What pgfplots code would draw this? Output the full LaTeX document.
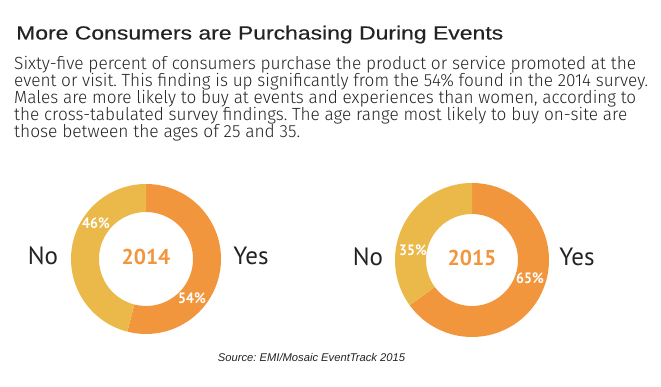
\documentclass[border=0pt]{standalone}
\usepackage{pgfplots}
\pgfplotsset{compat=1.18}
\usepackage{pgfplotstable}
\usepackage{graphicx}
\usepackage{fontspec}
\setmainfont{Liberation Sans}
\newfontfamily\titlefont[FakeBold=0.4]{Liberation Sans}
\newfontfamily\din[FakeStretch=0.93]{PT Sans}
\newfontfamily\dinw{PT Sans}
\newfontfamily\dinl{Fira Sans Light}
\usetikzlibrary{calc}
\definecolor{yesc}{RGB}{242,150,62}
\definecolor{noc}{RGB}{234,185,74}
\definecolor{txt}{RGB}{35,35,35}
\frenchspacing

\pgfplotstableread{
year yes no
2014 54 46
2015 65 35
}\donutdata

\newcommand\donut[7]{%
\fill[#7] ($(axis cs:#1,#2)+(#5:#3pt)$) arc[start angle=#5,end angle=#6,radius=#3pt]
 -- ($(axis cs:#1,#2)+(#6:#4pt)$) arc[start angle=#6,end angle=#5,radius=#4pt] -- cycle;}
\newcommand\fitw[2]{\resizebox{#1pt}{\height}{#2}}

\begin{document}
\begin{tikzpicture}
\pgfplotstablegetelem{0}{yes}\of\donutdata \let\yesA\pgfplotsretval
\pgfplotstablegetelem{1}{yes}\of\donutdata \let\yesB\pgfplotsretval
\pgfmathsetmacro\eA{90-3.6*\yesA}
\pgfmathsetmacro\eB{90-3.6*\yesB}
\begin{axis}[x=1pt,y=1pt,xmin=0,xmax=661,ymin=0,ymax=387,hide axis,clip=false]
\path (axis cs:0,0) rectangle (axis cs:661,387);
% 2014 donut
\donut{146}{128}{75}{47}{90}{\eA}{yesc}
\donut{146}{128}{75}{47}{\eA}{-270}{noc}
% 2015 donut
\donut{472}{127}{77}{46}{90}{\eB}{yesc}
\donut{472}{127}{77}{46}{\eB}{-270}{noc}
% title
\node[anchor=base west,inner sep=0,text=txt,font=\titlefont\fontsize{19}{21}\selectfont] at (axis cs:16,347.5) {\fitw{487}{More Consumers are Purchasing During Events}};
% body
\begin{scope}[every node/.style={anchor=base west,inner sep=0,text=txt,font=\dinl\fontsize{17.6}{18}\selectfont}]
\node at (axis cs:14,317) {\fitw{622}{Sixty-five percent of consumers purchase the product or service promoted at the}};
\node at (axis cs:14,300) {\fitw{634}{event or visit. This finding is up significantly from the 54\% found in the 2014 survey.}};
\node at (axis cs:14,283) {\fitw{622}{Males are more likely to buy at events and experiences than women, according to}};
\node at (axis cs:14,266) {\fitw{613}{the cross-tabulated survey findings. The age range most likely to buy on-site are}};
\node at (axis cs:14,249) {\fitw{286}{those between the ages of 25 and 35.}};
\end{scope}
% labels
\begin{scope}[every node/.style={anchor=base,inner sep=0,text=txt,font=\dinw\fontsize{25}{27}\selectfont}]
\node at (axis cs:43,122) {No};
\node at (axis cs:251,122) {Yes};
\node at (axis cs:368,121) {No};
\node at (axis cs:577,121) {Yes};
\end{scope}
\node[anchor=base,inner sep=0,text=yesc,font=\dinw\bfseries\fontsize{21.5}{24}\selectfont] at (axis cs:146,122) {2014};
\node[anchor=base,inner sep=0,text=yesc,font=\dinw\bfseries\fontsize{21.5}{24}\selectfont] at (axis cs:472,121) {2015};
\begin{scope}[every node/.style={anchor=center,inner sep=0,text=white,font=\din\bfseries\fontsize{15}{16}\selectfont}]
\node at (axis cs:96,164) {46\%};
\node at (axis cs:192,89) {54\%};
\node at (axis cs:413,137) {35\%};
\node at (axis cs:530,109) {65\%};
\end{scope}
\node[anchor=base,inner sep=0,text=txt,font=\itshape\fontsize{11.2}{12}\selectfont] at (axis cs:311.5,25) {Source: EMI/Mosaic EventTrack 2015};
\end{axis}
\end{tikzpicture}
\end{document}
